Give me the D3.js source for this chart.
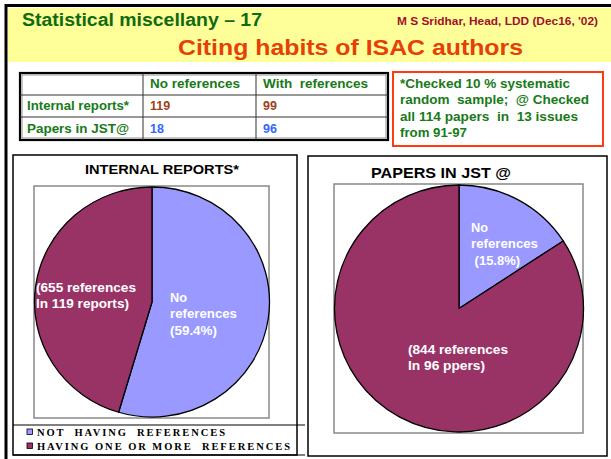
<!DOCTYPE html>
<html><head><meta charset="utf-8">
<script src="https://cdn.jsdelivr.net/npm/d3@7"></script>
<style>
html,body{margin:0;padding:0;background:#fff;}
svg{display:block;font-family:"Liberation Sans",Arial,sans-serif;}
text{white-space:pre;}
</style></head><body>
<svg id="c" width="611" height="459"></svg>
<script>
// ---- data ----
const columns = ["No references", "With  references"];
const rowLabels = ["Internal reports*", "Papers in JST@"];
const internalReports = [119, 99];
const papersJST = [18, 96];
const legendLabels = ["NOT  HAVING  REFERENCES", "HAVING ONE OR MORE  REFERENCES"];
const sliceColors = ["#9999ff", "#993366"];
const noteLines = ["*Checked 10 % systematic", "random  sample;  @ Checked", "all 114 papers  in  13 issues", "from 91-97"];
const internalLabels = {no: ["No", "references", "(59.4%)"], with: ["(655 references", "In 119 reports)"]};
const jstLabels = {no: ["No", "references", " (15.8%)"], with: ["(844 references", "In 96 ppers)"]};

const svg = d3.select("#c");
const green = "#187a18";

// outer frame
svg.append("rect").attr("x", 0).attr("y", 0).attr("width", 611).attr("height", 459).attr("fill", "#fff");
svg.append("rect").attr("x", 8).attr("y", 8).attr("width", 603).attr("height", 54).attr("fill", "#ffff99");
svg.append("line").attr("x1", 5).attr("x2", 611).attr("y1", 5.5).attr("y2", 5.5).attr("stroke", "#000").attr("stroke-width", 3);
svg.append("line").attr("x1", 6).attr("x2", 6).attr("y1", 4).attr("y2", 459).attr("stroke", "#000").attr("stroke-width", 3);

// header texts
svg.append("text").attr("x", 22).attr("y", 26).attr("font-size", 17.5).attr("font-weight", "bold")
  .attr("fill", "#106b10").attr("textLength", 240).attr("lengthAdjust", "spacingAndGlyphs").text("Statistical miscellany – 17");
svg.append("text").attr("x", 397).attr("y", 25).attr("font-size", 10).attr("font-weight", "bold")
  .attr("fill", "#a0102a").attr("textLength", 201).attr("lengthAdjust", "spacingAndGlyphs").text("M S Sridhar, Head, LDD (Dec16, '02)");
svg.append("text").attr("x", 178).attr("y", 55).attr("font-size", 22.5).attr("font-weight", "bold")
  .attr("fill", "#e6400a").attr("textLength", 345).attr("lengthAdjust", "spacingAndGlyphs").text("Citing habits of ISAC authors");

// table
const tx = [20, 143, 256, 388], ty = [73, 95, 117, 140];
const tbl = svg.append("g");
tbl.append("rect").attr("x", tx[0]).attr("y", ty[0]).attr("width", tx[3] - tx[0]).attr("height", ty[3] - ty[0])
  .attr("fill", "#fff").attr("stroke", "#000").attr("stroke-width", 2.2);
tbl.append("rect").attr("x", tx[0] + 2).attr("y", ty[0] + 2).attr("width", tx[3] - tx[0] - 4).attr("height", ty[3] - ty[0] - 4)
  .attr("fill", "none").attr("stroke", "#777").attr("stroke-width", 0.8);
[tx[1], tx[2]].forEach(x => tbl.append("line").attr("x1", x).attr("x2", x).attr("y1", ty[0]).attr("y2", ty[3]).attr("stroke", "#333").attr("stroke-width", 1));
[ty[1], ty[2]].forEach(y => tbl.append("line").attr("x1", tx[0]).attr("x2", tx[3]).attr("y1", y).attr("y2", y).attr("stroke", "#333").attr("stroke-width", 1));
const colW = [90, 105];
columns.forEach((c, i) => tbl.append("text").attr("x", tx[i + 1] + 7).attr("y", 88).attr("font-size", 12.5).attr("font-weight", "bold")
  .attr("fill", green).attr("textLength", colW[i]).attr("lengthAdjust", "spacingAndGlyphs").text(c));
const rowY = [110, 133];
rowLabels.forEach((r, i) => tbl.append("text").attr("x", 27).attr("y", rowY[i]).attr("font-size", 12.5).attr("font-weight", "bold")
  .attr("fill", green).attr("textLength", 102).attr("lengthAdjust", "spacingAndGlyphs").text(r));
const valColors = ["#a0401a", "#3366ff"];
[internalReports, papersJST].forEach((vals, r) => vals.forEach((v, c) =>
  tbl.append("text").attr("x", tx[c + 1] + 7).attr("y", rowY[r]).attr("font-size", 12.5).attr("font-weight", "bold")
    .attr("fill", valColors[r]).text(v)));

// note box
svg.append("rect").attr("x", 393).attr("y", 72).attr("width", 210).attr("height", 74)
  .attr("fill", "#fff").attr("stroke", "#ff3b0f").attr("stroke-width", 2);
const noteW = [170, 189, 178, 67];
noteLines.forEach((t, i) => svg.append("text").attr("x", 400).attr("y", 88 + i * 16.3).attr("font-size", 12.5).attr("font-weight", "bold")
  .attr("fill", green).attr("textLength", noteW[i]).attr("lengthAdjust", "spacingAndGlyphs").text(t));

// panels
function panel(x, y, w, h) {
  svg.append("rect").attr("x", x).attr("y", y).attr("width", w).attr("height", h).attr("fill", "#fff").attr("stroke", "#000").attr("stroke-width", 1.5);
}
panel(13, 155, 284, 300);
panel(308, 156, 299, 300);
svg.append("line").attr("x1", 13).attr("x2", 305).attr("y1", 425).attr("y2", 425).attr("stroke", "#000").attr("stroke-width", 1);
svg.append("line").attr("x1", 13).attr("x2", 305).attr("y1", 455).attr("y2", 455).attr("stroke", "#000").attr("stroke-width", 1.2);

// plot areas
svg.append("rect").attr("x", 34).attr("y", 186).attr("width", 235).attr("height", 232).attr("fill", "#fff").attr("stroke", "#888").attr("stroke-width", 1.5);
svg.append("rect").attr("x", 334).attr("y", 184).attr("width", 249).attr("height", 249).attr("fill", "#fff").attr("stroke", "#888").attr("stroke-width", 1.5);

// titles
svg.append("text").attr("x", 85).attr("y", 174).attr("font-size", 13.5).attr("font-weight", "bold").attr("fill", "#000")
  .attr("textLength", 154).attr("lengthAdjust", "spacingAndGlyphs").text("INTERNAL REPORTS*");
svg.append("text").attr("x", 371).attr("y", 178).attr("font-size", 15.5).attr("font-weight", "bold").attr("fill", "#000")
  .attr("textLength", 140).attr("lengthAdjust", "spacingAndGlyphs").text("PAPERS IN JST @");

// pies
const pie = d3.pie().sort(null).value(d => d);
function drawPie(vals, cx, cy, rx, ry) {
  const r = Math.max(rx, ry);
  const arc = d3.arc().innerRadius(0).outerRadius(r);
  const g = svg.append("g").attr("transform", `translate(${cx},${cy}) scale(${rx / r},${ry / r})`);
  g.selectAll("path").data(pie(vals)).join("path")
    .attr("d", arc).attr("fill", (d, i) => sliceColors[i])
    .attr("stroke", "#000").attr("stroke-width", 1.3).attr("stroke-linejoin", "round");
}
drawPie(internalReports, 152, 302, 117.5, 115);
drawPie(papersJST, 459, 308.5, 124.5, 123.5);

function labelBlock(lines, x, y0, widths) {
  lines.forEach((t, i) => svg.append("text").attr("x", x).attr("y", y0 + i * 16.3).attr("font-size", 12.5).attr("font-weight", "bold")
    .attr("fill", "#fff").attr("textLength", widths[i]).attr("lengthAdjust", "spacingAndGlyphs").text(t));
}
labelBlock(internalLabels.with, 36, 292, [100, 93]);
labelBlock(internalLabels.no, 170, 302, [17, 67, 47]);
labelBlock(jstLabels.no, 471, 232, [17, 67, 49]);
labelBlock(jstLabels.with, 408, 354, [100, 77]);

// legend
legendLabels.forEach((t, i) => {
  const y = 436 + i * 14;
  svg.append("rect").attr("x", 27).attr("y", y - 7).attr("width", 5.5).attr("height", 5.5)
    .attr("fill", sliceColors[i]).attr("stroke", "#000").attr("stroke-width", 0.8);
  svg.append("text").attr("x", 37).attr("y", y).attr("font-family", "'Liberation Serif','Times New Roman',serif")
    .attr("font-size", 10.5).attr("font-weight", "bold").attr("fill", "#000")
    .attr("textLength", i === 0 ? 188 : 253).attr("lengthAdjust", "spacing").text(t);
});
</script>
</body></html>
